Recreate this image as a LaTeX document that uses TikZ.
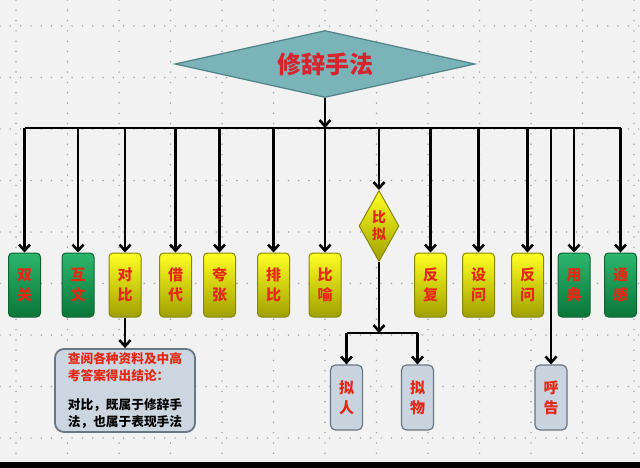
\documentclass[tikz,border=0pt]{standalone}
\usepackage{fontspec}
\newfontfamily\cjk{Noto Sans CJK SC}
\usetikzlibrary{shapes.geometric,arrows.meta}
\definecolor{bgcol}{RGB}{242,242,242}
\definecolor{dotcol}{RGB}{165,165,165}
\definecolor{txtred}{RGB}{228,40,20}
\definecolor{teal1}{RGB}{122,180,184}
\definecolor{teal2}{RGB}{80,130,135}
\definecolor{grn1}{RGB}{45,182,108}
\definecolor{grn2}{RGB}{10,118,58}
\definecolor{grnline}{RGB}{15,100,50}
\definecolor{yel1}{RGB}{255,255,35}
\definecolor{yel2}{RGB}{160,160,0}
\definecolor{yelline}{RGB}{135,135,10}
\definecolor{grey1}{RGB}{201,212,223}
\definecolor{grey2}{RGB}{105,118,132}
\tikzset{
  boxfont/.style={font=\cjk\bfseries\fontsize{15}{20}\selectfont},
  gbox/.style={boxfont,draw=grnline,line width=1pt,rounded corners=4pt,
    minimum width=32pt,minimum height=64pt,inner sep=0pt,align=center,
    text=txtred,top color=grn1,bottom color=grn2},
  ybox/.style={boxfont,draw=yelline,line width=1pt,rounded corners=4pt,
    minimum width=32pt,minimum height=64pt,inner sep=0pt,align=center,
    text=txtred,top color=yel1,middle color=yel1!92!yel2,bottom color=yel2},
  lbox/.style={boxfont,draw=grey2,line width=1.2pt,rounded corners=5pt,
    minimum width=32pt,minimum height=65pt,inner sep=0pt,align=center,
    text=txtred,fill=grey1}
}
\begin{document}
\begin{tikzpicture}[x=1pt,y=-1pt,
    line/.style={line width=2.6pt},
    arr/.style={line width=2.6pt,-{Straight Barb[length=6pt,width=11pt]}},
    griddot/.style={dotcol,line width=1.7pt,line cap=round,dash pattern=on 0pt off 10.3pt}]
        %% background and dotted grid
        \fill[bgcol] (0,0) rectangle (640,468);
        \useasboundingbox (0,0) rectangle (640,468);
        \foreach \k in {0,...,8} \draw[griddot] (0,{26+51.5*\k}) -- (640,{26+51.5*\k});
        \foreach \k in {0,...,12} \draw[griddot] ({16+51.5*\k},0) -- ({16+51.5*\k},462);
        \fill[black] (0,462) rectangle (640,468);
        %% title
        \node[diamond,aspect=4.5,minimum width=300pt,minimum height=67pt,inner sep=0pt,
              fill=teal1,draw=teal2,line width=1.2pt,text={rgb,255:red,215;green,35;blue,45},
              font=\cjk\bfseries\fontsize{24}{28}\selectfont] (top) at (325,64) {修辞手法};
        \coordinate (bar) at (0,128);
        %% first row
        \foreach \nm/\x/\a/\b in {sg/24.5/双/关,hw/78/互/文,yd/574/用/典,tg/620.5/通/感}
            \node[gbox] (\nm) at (\x,285) {\a\\\b};
        \foreach \nm/\x/\a/\b in {db/125/对/比,jd/175.5/借/代,kz/219.5/夸/张,pb/273.5/排/比,
                                  by/325/比/喻,ff/430.5/反/复,sw/478.5/设/问,fw/527.5/反/问}
            \node[ybox] (\nm) at (\x,285) {\a\\\b};
        \node[diamond,aspect=0.5,minimum width=40pt,minimum height=71pt,inner sep=0pt,
              draw=yelline,line width=1pt,top color=yel1,bottom color=yel2,text=txtred,
              align=center,font=\cjk\bfseries\fontsize{14}{17}\selectfont] (bn) at (379,226) {比\\拟};
        %% second row
        \node[lbox] (nr) at (346.5,397.5) {拟\\人};
        \node[lbox] (nw) at (417.5,397.5) {拟\\物};
        \node[lbox] (hg) at (551,397.5) {呼\\告};
        \node[draw=grey2,line width=1.8pt,rounded corners=9pt,fill=grey1!95!white,
              minimum width=140pt,minimum height=83pt,inner sep=0pt,align=left,
              font=\cjk\bfseries\fontsize{12.7}{16.5}\selectfont] (note) at (125,390.5)
              {{\color{txtred}查阅各种资料及中高}\\{\color{txtred}考答案得出结论：}\\[13pt]
               对比，既属于修辞手\\法，也属于表现手法};
        %% connectors
        \draw[arr] (top.south) -- (top.south |- bar);
        \draw[line] (sg.north |- bar) -- (tg.north |- bar);
        \foreach \nm in {sg,hw,db,jd,kz,pb,by,bn,ff,sw,fw,yd,tg}
            \draw[arr] (\nm.north |- bar) -- (\nm.north);
        \draw[arr] (hg.north |- bar) -- (hg.north);
        \draw[arr] (db.south) -- (note.north);
        \coordinate (split) at (379,333);
        \draw[arr] (bn.south) -- (split);
        \draw[line] (nr.north |- split) -- (nw.north |- split);
        \draw[arr] (nr.north |- split) -- (nr.north);
        \draw[arr] (nw.north |- split) -- (nw.north);
\end{tikzpicture}
\end{document}
